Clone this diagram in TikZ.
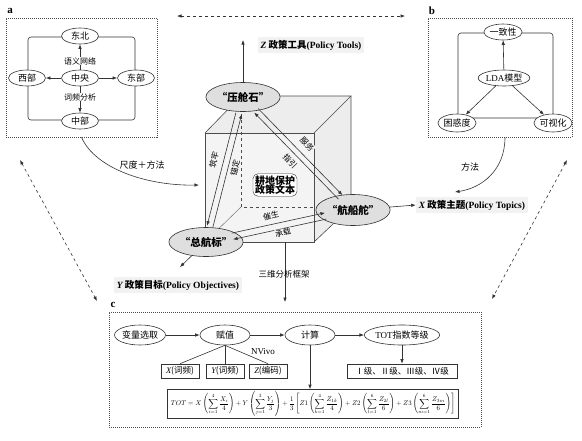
\documentclass[tikz,border=0pt]{standalone}
\usepackage{fontspec}
\usepackage{graphicx}
\setmainfont{Noto Sans CJK SC}
\newfontfamily\lat{Liberation Serif}
\usetikzlibrary{arrows.meta,shapes.geometric,calc}
\newcommand\myfs[1]{\fontsize{#1}{#1}\selectfont}
\begin{document}
\begin{tikzpicture}[x=1pt,y=-1pt,
  line/.style={draw=black!80, line width=0.6pt},
  arr/.style={line, -{Latex[length=4.5pt,width=3.5pt]}},
  rarr/.style={line, {Latex[length=4.5pt,width=3.5pt]}-},
  darr/.style={line, dashed, {Latex[length=4.5pt,width=3.5pt]}-{Latex[length=4.5pt,width=3.5pt]}},
  panel/.style={draw=black!70, dash pattern=on 1pt off 1pt, line width=0.6pt, inner sep=0pt},
  ellA/.style={ellipse, draw=black!80, fill=white, line width=0.6pt, minimum width=37pt, minimum height=16pt, inner sep=0pt, font=\myfs{9}},
  bigE/.style={ellipse, draw=black!80, fill=gray!25, line width=0.6pt, minimum width=57pt, minimum height=29pt, inner sep=0pt, font=\myfs{10.5}\bfseries},
  small/.style={font=\myfs{8}, inner sep=0.6pt},
  axlab/.style={fill=gray!10, inner sep=3pt, font=\myfs{9.5}\bfseries},
  bx/.style={draw=black!80, line width=0.6pt, inner sep=1pt, minimum height=14pt, font=\myfs{8.5}},
  plab/.style={font=\lat\bfseries\myfs{11}}
]
\useasboundingbox (0,0) rectangle (582,440);

% ---------------- panel a ----------------
\node[panel, minimum width=151pt, minimum height=119pt] (pa) at (81.5,77.5) {};
\node[plab] (la) at (10,11) {a};
\draw[line, rounded corners=3pt] (28,37) rectangle (135,120);
\node[ellA] (db) at (80,36) {东北};
\node[ellA] (xb) at (27,78) {西部};
\node[ellA] (zy) at (80,78) {中央};
\node[ellA] (eb) at (136,78) {东部};
\node[ellA] (zb) at (80,121) {中部};
\draw[arr] (zy) -- (db);
\draw[arr] (zy) -- (xb);
\draw[arr] (zy) -- (eb);
\draw[arr] (zy) -- (zb);
\node[small, fill=white] (yy) at (80,61) {语义网络};
\node[small, fill=white] (cp) at (80,97) {词频分析};

% ---------------- panel b ----------------
\node[panel, minimum width=144pt, minimum height=119pt] (pb) at (500,77.5) {};
\node[plab] (lb) at (432,11) {b};
\draw[line, rounded corners=3pt] (458,33) rectangle (553,118);
\node[ellA] (yz) at (503,32) {一致性};
\node[ellA, minimum width=40pt] (lda) at (504,78) {{\lat LDA}模型};
\node[ellA, minimum height=18pt] (khd) at (457,123) {困惑度};
\node[ellA, minimum height=18pt] (ksh) at (553,123) {可视化};
\draw[arr] (lda) -- (yz);
\draw[arr] (lda) -- (khd);
\draw[arr] (lda) -- (ksh);

% top dashed double arrow
\coordinate (ta) at (177,16);
\coordinate (tb) at (405,16);
\draw[darr] (ta) -- (tb);

% ---------------- cube ----------------
\coordinate (A) at (241,96);
\coordinate (B) at (351,96);
\coordinate (C) at (351,207);
\coordinate (D) at (241,207);
\coordinate (E) at (205,133);
\coordinate (F) at (314,133);
\coordinate (G) at (314,242);
\coordinate (H) at (205,242);
\fill[gray!14] (E) -- (A) -- (B) -- (C) -- (G) -- (H) -- cycle;
\fill[gray!9] (E) -- (F) -- (G) -- (H) -- cycle;
\draw[line, black!70] (E) -- (F) -- (G) -- (H) -- cycle;
\draw[line, black!70] (E) -- (A) -- (B) -- (F);
\draw[line, black!70] (B) -- (C) -- (G);
\draw[line, black!70, dashed] (A) -- (D) -- (C);
\draw[line, black!60, line width=0.4pt] (D) -- (H);

\node[draw=black!80, fill=white, rounded corners=5pt, align=center, inner sep=2pt, font=\myfs{10}\bfseries] (txt) at (275,185) {耕地保护\\[-1pt]政策文本};

\node[bigE] (ysc) at (243,97) {“压舱石”};
\node[bigE, minimum height=31pt] (hcd) at (353,210) {“航船舵”};
\node[bigE] (zhb) at (206,242) {“总航标”};

% axes
\node[axlab] (zlab) at (311,45) {{\lat\itshape Z} 政策工具{\lat(Policy Tools)}};
\node[axlab] (xlab) at (472,205) {{\lat\itshape X} 政策主题{\lat(Policy Topics)}};
\node[axlab] (ylab) at (178,285) {{\lat\itshape Y} 政策目标{\lat(Policy Objectives)}};
\coordinate (zend) at (243,40);
\coordinate (yend) at (180,267);
\draw[arr] (ysc) -- (zend);
\draw[arr] (hcd) -- (xlab.west);
\draw[arr] (zhb) -- (yend);

% double connectors
\draw[rarr, shorten <=17pt, shorten >=16pt] ($(ysc)!3pt!90:(zhb)$) -- ($(zhb)!3pt!-90:(ysc)$);
\draw[arr, shorten <=17pt, shorten >=16pt] ($(ysc)!3pt!-90:(zhb)$) -- ($(zhb)!3pt!90:(ysc)$);
\node[small, rotate=76, fill=gray!9] (zl) at (214,160) {筑牢};
\node[small, rotate=76, fill=gray!9] (md) at (235,168) {锚定};

\draw[rarr, shorten <=19pt, shorten >=18pt] ($(ysc)!2.8pt!-90:(hcd)$) -- ($(hcd)!2.8pt!90:(ysc)$);
\draw[arr, shorten <=19pt, shorten >=18pt] ($(ysc)!2.8pt!90:(hcd)$) -- ($(hcd)!2.8pt!-90:(ysc)$);
\node[small, rotate=-46, fill=gray!9] (fw) at (307,144) {服务};
\node[small, rotate=-46, fill=gray!9] (zyn) at (290,161) {指引};

\draw[arr, shorten <=27pt, shorten >=28pt] ($(zhb)!3.2pt!90:(hcd)$) -- ($(hcd)!3.2pt!-90:(zhb)$);
\draw[rarr, shorten <=27pt, shorten >=28pt] ($(zhb)!3.2pt!-90:(hcd)$) -- ($(hcd)!3.2pt!90:(zhb)$);
\node[small, rotate=12, fill=gray!9] (cs) at (271,216) {催生};
\node[small, rotate=12, fill=gray!9] (cz) at (283,233) {承载};

% curves from panels
\coordinate (cubeL) at (199,185);
\draw[arr] (pa.south) .. controls (96,170) and (150,186) .. (cubeL);
\node[font=\myfs{9}] (cdff) at (142,165) {尺度＋方法};
\coordinate (xtop) at (455,192);
\draw[arr] ([xshift=5pt]pb.south) .. controls (505,170) and (482,188) .. (xtop);
\node[font=\myfs{9}] (ff) at (470,167) {方法};

% 3D framework arrow
\coordinate (fb) at (285,242);
\coordinate (cend) at (285,302);
\draw[arr] (fb) -- (cend);
\node[font=\myfs{8.5}, inner sep=0.5pt] (swk) at (284,274) {三维分析框架};

% dashed diagonals
\coordinate (la1) at (20,160);
\coordinate (la2) at (97,301);
\coordinate (ra1) at (567,160);
\coordinate (ra2) at (492,299);
\draw[darr] (la1) -- (la2);
\draw[darr] (ra1) -- (ra2);

% ---------------- panel c ----------------
\node[panel, minimum width=372pt, minimum height=115pt] (pc) at (295,369.5) {};
\node[plab] (lc) at (113,305) {c};
\node[ellA, minimum width=50pt, minimum height=20pt] (bl) at (140,335) {变量选取};
\node[ellA, minimum width=50pt, minimum height=20pt] (fz) at (225,335) {赋值};
\node[ellA, minimum width=50pt, minimum height=20pt] (js) at (310,335) {计算};
\node[ellA, minimum width=67pt, minimum height=20pt] (tot) at (402,335) {{\lat TOT}指数等级};
\draw[arr] (bl) -- (fz);
\draw[arr] (fz) -- (js);
\draw[arr] (js) -- (tot);

\node[bx, minimum width=38pt] (bxx) at (180,371) {{\lat\itshape X}(词频)};
\node[bx, minimum width=38pt] (bxy) at (225,371) {{\lat\itshape Y}(词频)};
\node[bx, minimum width=38pt] (bxz) at (268,371) {{\lat\itshape Z}(编码)};
\draw[line] (fz.south) -- (bxx.north);
\draw[line] (fz.south) -- (bxy.north);
\draw[line] (fz.south) -- (bxz.north);
\node[font=\lat\myfs{9}] (nv) at (263,352) {NVivo};

\node[bx, minimum width=110pt] (lvl) at (402,371) {Ⅰ级、Ⅱ级、Ⅲ级、Ⅳ级};
\draw[arr] (tot) -- (lvl);

\node[draw=black!80, line width=0.6pt, minimum width=291pt, minimum height=29pt, inner sep=1pt] (fm) at (313,404)
 {\resizebox{284pt}{!}{$\displaystyle TOT=X\left(\sum_{i=1}^{4}\frac{X_i}{4}\right)+Y\left(\sum_{j=1}^{3}\frac{Y_j}{3}\right)+\frac{1}{3}\left[Z1\left(\sum_{k=1}^{4}\frac{Z_{1k}}{4}\right)+Z2\left(\sum_{l=1}^{6}\frac{Z_{2l}}{6}\right)+Z3\left(\sum_{m=1}^{6}\frac{Z_{3m}}{6}\right)\right]$}};
\draw[arr] (js.south) -- (js.south |- fm.north);
\end{tikzpicture}
\end{document}
